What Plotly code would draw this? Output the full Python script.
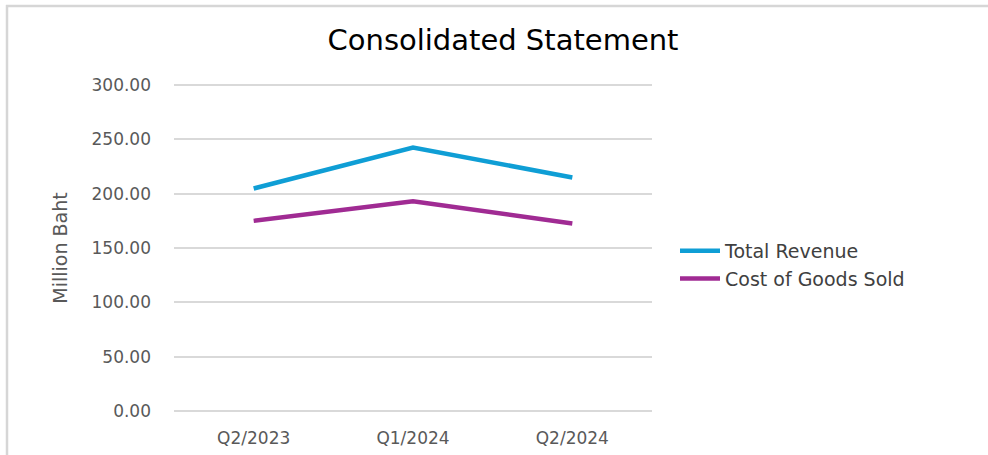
import plotly.graph_objects as go

categories = ["Q2/2023", "Q1/2024", "Q2/2024"]
total_revenue = [204.8, 242.6, 215.0]
cost_of_goods_sold = [175.0, 193.0, 172.6]
y_ticks = [0, 50, 100, 150, 200, 250, 300]
y_tick_labels = ["0.00", "50.00", "100.00", "150.00", "200.00", "250.00", "300.00"]

W, H = 988, 455
# plot area: y=300 at 85px, y=0 at 410.7px; extend range a bit so edge gridlines show
PAD = 2.0
PXU = 325.7 / 300.0
L = 174
T = round(85 - PAD * PXU)
PW = 478
PH = round(325.7 + 2 * PAD * PXU)

fig = go.Figure()
fig.add_trace(go.Scatter(x=categories, y=total_revenue, mode="lines", name="Total Revenue",
                         line=dict(color="#0F9ED5", width=4.5)))
fig.add_trace(go.Scatter(x=categories, y=cost_of_goods_sold, mode="lines", name="Cost of Goods Sold",
                         line=dict(color="#A02B93", width=4.5)))

fig.update_layout(
    width=W, height=H,
    margin=dict(l=L, r=W - L - PW, t=T, b=H - T - PH),
    paper_bgcolor="white", plot_bgcolor="white",
    title=dict(text="Consolidated Statement", x=503 / W, xanchor="center",
               y=1 - 40 / H, yanchor="middle",
               font=dict(family="DejaVu Sans", size=29, color="#000000")),
    xaxis=dict(type="category", range=[-0.5, 2.5], showgrid=False, showline=False, zeroline=False,
               ticks="", tickfont=dict(family="DejaVu Sans", size=17, color="#595959"),
               ticklabelstandoff=13, fixedrange=True, automargin=False),
    yaxis=dict(range=[-PAD, 300 + PAD], tickvals=y_ticks, ticktext=y_tick_labels, showgrid=True,
               gridcolor="#D9D9D9", gridwidth=1.5, zeroline=False, showline=False, ticks="",
               tickfont=dict(family="DejaVu Sans", size=17, color="#595959"),
               ticklabelstandoff=22, automargin=False, fixedrange=True,
               title=dict(text="Million Baht", standoff=18,
                          font=dict(family="DejaVu Sans", size=19, color="#595959"))),
    legend=dict(x=675 / W, xanchor="left", y=1 - 265 / H, yanchor="middle",
                xref="container", yref="container",
                font=dict(family="DejaVu Sans", size=19, color="#404040"), bgcolor="rgba(0,0,0,0)",
                tracegroupgap=0, itemwidth=40),
    showlegend=True,
)

# outer frame (top and left edges only, as in the reference)
def px_x(p):
    return (p - L) / PW

def px_y(p):
    return (T + PH - p) / PH

fig.add_shape(type="line", xref="paper", yref="paper",
              x0=px_x(6), x1=px_x(988), y0=px_y(6), y1=px_y(6),
              line=dict(color="#D6D6D6", width=2.5))
fig.add_shape(type="line", xref="paper", yref="paper",
              x0=px_x(7), x1=px_x(7), y0=px_y(5), y1=px_y(455),
              line=dict(color="#D6D6D6", width=2.5))

fig.write_html("out.html", config={"displayModeBar": False},
               post_script="document.body.style.margin='0';")
